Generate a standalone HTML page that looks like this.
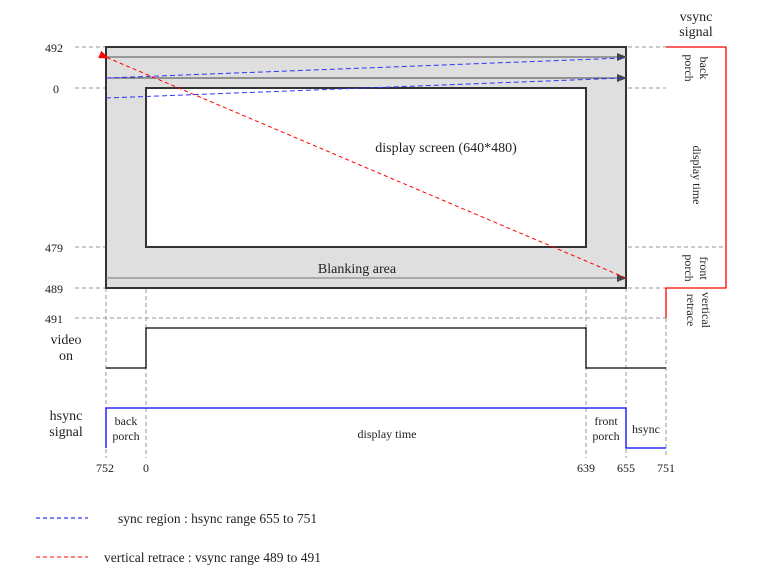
<!DOCTYPE html>
<html><head><style>body{margin:0;background:#fff}svg{display:block}text{font-family:"Liberation Serif",serif;fill:#222}</style></head>
<body>
<svg width="779" height="575" viewBox="0 0 779 575" xmlns="http://www.w3.org/2000/svg">
<defs>
<marker id="ag" markerWidth="10" markerHeight="8" refX="9" refY="4" orient="auto" markerUnits="userSpaceOnUse"><path d="M0,0L10,4L0,8z" fill="#444"/></marker>
<marker id="ar" markerWidth="10" markerHeight="8" refX="1" refY="4" orient="auto" markerUnits="userSpaceOnUse"><path d="M10,0L0,4L10,8z" fill="red"/></marker>
</defs>
<g stroke="#999" stroke-dasharray="4,3" fill="none">
<line x1="75" y1="47" x2="666" y2="47"/><line x1="75" y1="88" x2="666" y2="88"/>
<line x1="75" y1="247" x2="726" y2="247"/><line x1="75" y1="288" x2="666" y2="288"/>
<line x1="75" y1="318" x2="666" y2="318"/>
<line x1="106" y1="288" x2="106" y2="458"/><line x1="146" y1="247" x2="146" y2="458"/>
<line x1="586" y1="247" x2="586" y2="458"/><line x1="626" y1="288" x2="626" y2="458"/>
<line x1="666" y1="318" x2="666" y2="458"/>
</g>
<rect x="106" y="47" width="520" height="241" fill="#dfdfdf" stroke="#333" stroke-width="2"/>
<rect x="146" y="88" width="440" height="159" fill="#fff" stroke="#333" stroke-width="2"/>
<line x1="106" y1="57" x2="626" y2="57" stroke="#999" stroke-width="2" marker-end="url(#ag)"/>
<line x1="106" y1="78" x2="626" y2="78" stroke="#444" marker-end="url(#ag)"/>
<line x1="106" y1="278" x2="626" y2="278" stroke="#777" marker-end="url(#ag)"/>
<line x1="106" y1="78" x2="624" y2="58" stroke="#33f" stroke-dasharray="5,3"/>
<line x1="106" y1="98" x2="624" y2="78" stroke="#33f" stroke-dasharray="5,3"/>
<line x1="626" y1="278" x2="108" y2="58" stroke="red" stroke-dasharray="4,3" marker-end="url(#ar)"/>
<polyline points="666,47 726,47 726,288 666,288 666,318" fill="none" stroke="red" stroke-width="1.3"/>
<polyline points="106,368 146,368 146,328 586,328 586,368 666,368" fill="none" stroke="#000" stroke-width="1.3"/>
<polyline points="106,448 106,408 626,408 626,448 666,448" fill="none" stroke="#00f" stroke-width="1.3"/>
<g font-size="12">
<text x="45" y="52">492</text><text x="53" y="93">0</text><text x="45" y="252">479</text><text x="45" y="293">489</text><text x="45" y="323">491</text>
<text x="96" y="472">752</text><text x="143" y="472">0</text><text x="577" y="472">639</text><text x="617" y="472">655</text><text x="657" y="472">751</text>
</g>
<g font-size="14" text-anchor="middle">
<text x="446" y="152">display screen (640*480)</text>
<text x="357" y="273">Blanking area</text>
<text x="696" y="21">vsync</text><text x="696" y="36">signal</text>
<text x="66" y="344">video</text><text x="66" y="360">on</text>
<text x="66" y="420">hsync</text><text x="66" y="436">signal</text>
</g>
<g font-size="12" text-anchor="middle">
<text x="126" y="425">back</text><text x="126" y="440">porch</text>
<text x="387" y="438">display time</text>
<text x="606" y="425">front</text><text x="606" y="440">porch</text>
<text x="646" y="433">hsync</text>
<text transform="translate(700,68) rotate(90)">back</text>
<text transform="translate(685,68) rotate(90)">porch</text>
<text transform="translate(693,175) rotate(90)">display time</text>
<text transform="translate(700,268) rotate(90)">front</text>
<text transform="translate(685,268) rotate(90)">porch</text>
<text transform="translate(702,310) rotate(90)">vertical</text>
<text transform="translate(687,310) rotate(90)">retrace</text>
</g>
<line x1="36" y1="518" x2="88" y2="518" stroke="#00f" stroke-dasharray="4,3"/>
<line x1="36" y1="557" x2="88" y2="557" stroke="red" stroke-dasharray="4,3"/>
<text x="118" y="523" font-size="13.5">sync region : hsync range 655 to 751</text>
<text x="104" y="562" font-size="13.5">vertical retrace : vsync range 489 to 491</text>
</svg>
</body></html>
